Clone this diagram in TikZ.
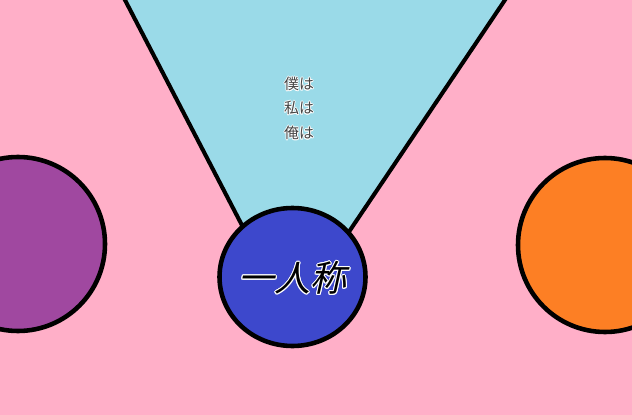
\documentclass[tikz,border=0pt]{standalone}
\usepackage{fontspec}
\newfontfamily\jpsmall{Noto Sans CJK JP}
\newfontfamily\jpslant[FakeSlant=0.22]{Noto Sans CJK JP}
\definecolor{bgpink}{RGB}{255,175,200}
\definecolor{conecyan}{RGB}{154,218,232}
\definecolor{selfblue}{RGB}{61,72,204}
\definecolor{leftpurple}{RGB}{160,72,160}
\definecolor{rightorange}{RGB}{253,127,36}
\definecolor{smallgrey}{RGB}{70,70,70}
\tikzset{
  blob/.style={draw=black,line width=2.6pt},
  pronoun/.style={font=\jpsmall\fontsize{8.5pt}{10pt}\selectfont,text=smallgrey,inner sep=0pt},
  bigword/.style={font=\jpslant\fontsize{20.5pt}{24pt}\selectfont,inner sep=0pt}
}
\begin{document}
\begin{tikzpicture}[x=0.02cm,y=-0.02cm]
\useasboundingbox (0,0) rectangle (632,415);
\clip (0,0) rectangle (632,415);
\fill[bgpink] (0,0) rectangle (632,415);

% Cone
\filldraw[fill=conecyan,draw=black,line width=2.3pt] (119.8,-10) -- (260,260) -- (330,260) -- (511.7,-10) -- cycle;

% Side circles
\filldraw[blob,fill=leftpurple] (18,244) circle (87);
\filldraw[blob,fill=rightorange] (605,245) circle (87);

% Centre circle
\filldraw[blob,fill=selfblue] (292.5,277) ellipse [x radius=73, y radius=69];

% Pronouns
\foreach \w/\y [count=\i] in {僕は/84,私は/108,俺は/133} {
  \foreach \a in {0,45,...,315}
    \node[pronoun,text=white,shift={(\a:0.45pt)}] at (299,\y) {\w};
  \node[pronoun] (pron\i) at (299,\y) {\w};
}

% Label
\foreach \a in {0,30,...,330}
  \node[bigword,text=white,shift={(\a:0.55pt)}] at (292.5,278) {一人称};
\node[bigword] (self) at (292.5,278) {一人称};
\end{tikzpicture}
\end{document}
